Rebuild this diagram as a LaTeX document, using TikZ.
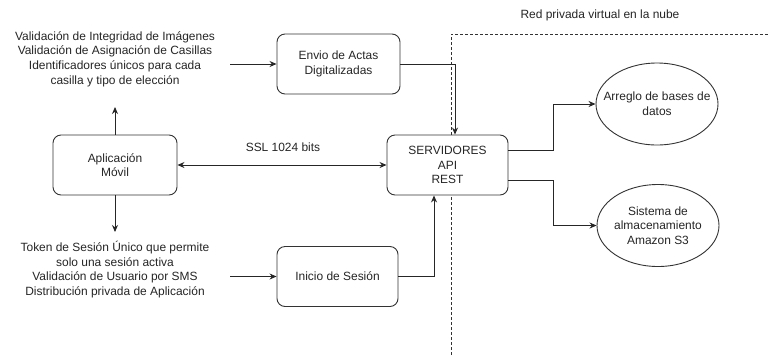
\documentclass[tikz,border=0pt]{standalone}
\usepackage{fontspec}
\setmainfont{Liberation Sans}
\usetikzlibrary{arrows.meta,shapes.geometric}
\begin{document}
\begin{tikzpicture}[x=1bp,y=-1bp,
  box/.style={draw=black!80, fill=white, rounded corners=8bp, minimum width=123bp, minimum height=60bp,
    inner sep=2bp, align=center, font=\fontsize{12}{14.7}\selectfont, line width=0.9bp, text=black!85},
  ell/.style={draw=black!80, fill=white, ellipse, minimum width=122bp, minimum height=82bp, inner xsep=-12bp, inner ysep=0bp,
    align=center, font=\fontsize{12}{14.7}\selectfont, line width=0.9bp, text=black!85},
  txt/.style={align=center, font=\fontsize{12}{14.7}\selectfont, text=black!85, inner sep=0bp},
  arr/.style={-{Stealth[length=7bp,width=6bp]}, line width=0.9bp, draw=black!85},
  arrboth/.style={{Stealth[length=7bp,width=6bp]}-{Stealth[length=7bp,width=6bp]}, line width=0.9bp, draw=black!85},
  vpnline/.style={draw=black!80, line width=0.8bp, dash pattern=on 3bp off 2bp}]
\useasboundingbox (0,0) rectangle (769,356);
\fill[white] (0,0) rectangle (769,356);

% cloud boundary
\draw[vpnline] (451,360) -- (451,34) -- (775,34);
\node[txt] (vpn) at (600,15) {Red privada virtual en la nube};

% nodes
\node[box, minimum width=124bp] (app) at (115,165) {Aplicación\\Móvil};
\node[box] (envio) at (338.5,64) {Envio de Actas\\Digitalizadas};
\node[box, minimum width=121bp] (srv) at (447.5,165) {SERVIDORES\\API\\REST};
\node[box, minimum width=121bp] (ini) at (337.5,276.5) {Inicio de Sesión};
\node[ell] (db) at (657,104) {Arreglo de bases de\\datos};
\node[ell] (s3) at (658,225.5) {Sistema de\\almacenamiento\\Amazon S3};

\node[txt] (top) at (115,59) {Validación de Integridad de Imágenes\\Validación de Asignación de Casillas\\Identificadores únicos para cada\\casilla y tipo de elección};
\node[txt] (bot) at (115,269.5) {Token de Sesión Único que permite\\solo una sesión activa\\Validación de Usuario por SMS\\Distribución privada de Aplicación};
\node[txt] (ssl) at (283,147) {SSL 1024 bits};

% free ends
\coordinate (upend) at (115,107);
\coordinate (downend) at (115,232);
\coordinate (topout) at (230,64);
\coordinate (botout) at (230,276.5);

% connectors
\draw[arr] (app.north) -- (upend);
\draw[arr] (app.south) -- (downend);
\draw[arr] (topout) -- (envio.west);
\draw[arr] (botout) -- (ini.west);
\draw[arrboth] (app.east) -- (srv.west);
\draw[arr] (envio.east) -| ([xshift=7.5bp]srv.north);
\draw[arr] (ini.east) -| ([xshift=-13.5bp]srv.south);
\draw[arr] ([yshift=15bp]srv.east) -- ++(45,0) |- (db.west);
\draw[arr] ([yshift=-15bp]srv.east) -- ++(45,0) |- (s3.west);
\end{tikzpicture}
\end{document}
